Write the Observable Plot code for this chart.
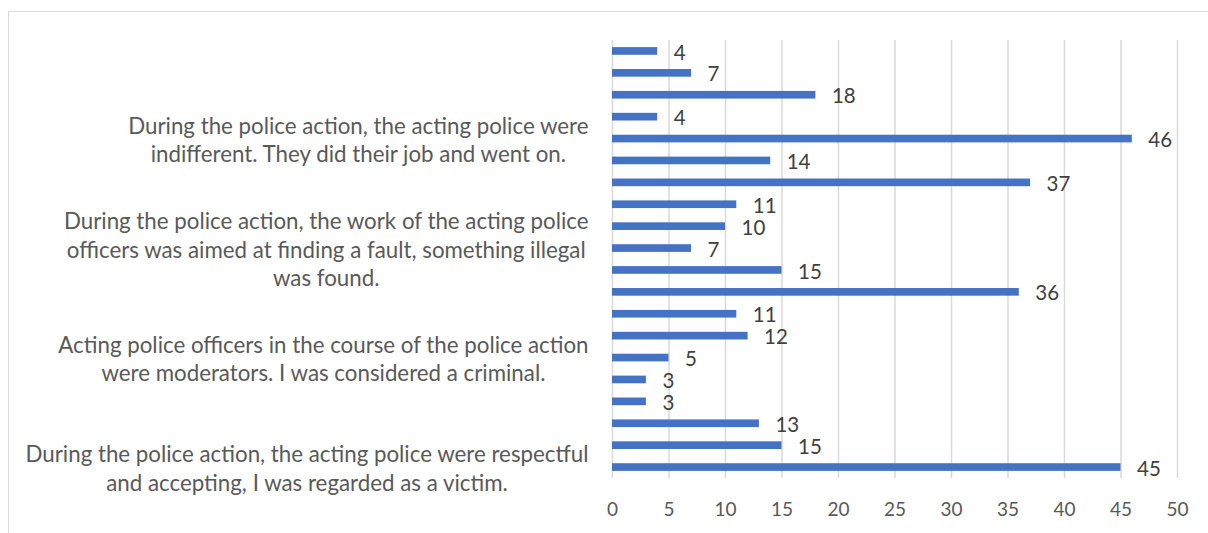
<!DOCTYPE html>
<html><head><meta charset="utf-8">
<script src="https://cdn.jsdelivr.net/npm/d3@7"></script>
<script src="https://cdn.jsdelivr.net/npm/@observablehq/plot@0.6"></script>
<style>
body{margin:0;background:#fff;}
#wrap{position:relative;width:1208px;height:533px;overflow:hidden;}
#frame{position:absolute;left:8px;top:11px;width:1230px;height:560px;border:1px solid #d9d9d9;box-sizing:border-box;}
#chart{position:absolute;left:0;top:0;}
</style></head><body>
<div id="wrap"><div id="frame"></div><div id="chart"></div></div>
<script>
// Categories numbered as in the source sheet (1 = bottom bar)
const categories = ["20","19","18","17","16","15","14","13","12","11","10","9","8","7","6","5","4","3","2","1"];
const values = [4,7,18,4,46,14,37,11,10,7,15,36,11,12,5,3,3,13,15,45];
const labelCategories = ["16","11","6","1"];
const labelTexts = [
  "During the police action, the acting police were\nindifferent. They did their job and went on.",
  "During the police action, the work of the acting police\nofficers was aimed at finding a fault, something illegal\nwas found.",
  "Acting police officers in the course of the police action\nwere moderators. I was considered a criminal.",
  "During the police action, the acting police were respectful\nand accepting, I was regarded as a victim."
];
const xTicks = [0,5,10,15,20,25,30,35,40,45,50];

const data = categories.map((c, i) => ({cat: c, value: values[i]}));
const labelData = labelCategories.map((c, i) => ({cat: c, label: labelTexts[i]}));

const FONT = "Lato, 'Open Sans', sans-serif";

const chart = Plot.plot({
  width: 1208,
  height: 533,
  marginLeft: 612,
  marginRight: 31,
  marginTop: 40,
  marginBottom: 55,
  style: {fontFamily: FONT, background: "transparent"},
  x: {domain: [0, 50], ticks: xTicks, label: null},
  y: {domain: categories, paddingInner: 0.65, paddingOuter: 0.325, round: false, axis: null},
  marks: [
    Plot.gridX(xTicks, {stroke: "#d9d9d9", strokeOpacity: 1, strokeWidth: 1.5}),
    Plot.axisX(xTicks, {tickSize: 0, tickPadding: 24, fontSize: 19, fill: "#595959", tickFormat: d => String(d), label: null}),
    Plot.barX(data, {x: "value", y: "cat", fill: "#4472C4"}),
    Plot.text(data, {x: "value", y: "cat", text: d => String(d.value), textAnchor: "start", dx: 16, dy: 1.5, fill: "#404040", fontSize: 20.5}),
    Plot.text(labelData, {y: "cat", frameAnchor: "left", text: "label", textAnchor: "end", dx: -24, lineHeight: 1.27, fill: "#595959", fontSize: 22.3, className: "catlab"})
  ]
});
document.getElementById("chart").appendChild(chart);

// center multi-line category labels within a right-aligned block
chart.querySelectorAll(".catlab text").forEach(t => {
  const spans = t.querySelectorAll("tspan");
  let maxW = 0;
  if (spans.length) spans.forEach(s => { maxW = Math.max(maxW, s.getComputedTextLength()); });
  else maxW = t.getComputedTextLength();
  t.setAttribute("text-anchor", "middle");
  if (spans.length) spans.forEach(s => s.setAttribute("x", -maxW / 2));
  else t.setAttribute("x", -maxW / 2);
});
</script>
</body></html>
